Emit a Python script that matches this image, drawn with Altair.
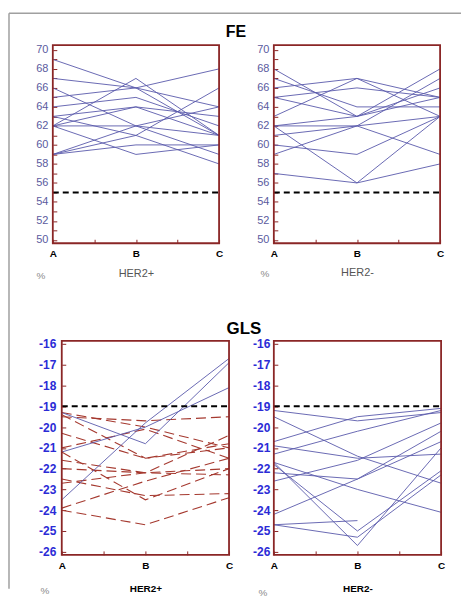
import altair as alt
import pandas as pd

stages = ["A", "B", "C"]

# FE (%), HER2+ : one row per patient, values at A, B, C
fe_her2_pos = [
    [69, 66, 64], [67, 66, 61], [66, 62, 59], [65, 66, 68], [64, 65, 62],
    [63, 64, 61], [63, 61, 58], [62, 67, 61], [62, 64, 63], [62, 62, 61],
    [59, 62, 64], [59, 61, 66], [59, 60, 60], [62, 59, 60],
]
# FE (%), HER2-
fe_her2_neg = [
    [68, 63, 65], [67, 64, 64], [66, 67, 63], [65, 66, 65], [65, 63, 66],
    [63, 67, 65], [62, 63, 68], [62, 62, 63], [62, 56, 63], [61, 62, 59],
    [60, 59, 63], [59, 62, 67], [57, 56, 58],
]
# GLS (%), HER2+ : solid blue patients
gls_her2_pos_blue = [
    [-19.3, -20.8, -16.9], [-21.2, -20.0, -18.1], [-23.5, -19.8, -16.7],
]
# GLS (%), HER2+ : dashed red patients
gls_her2_pos_red = [
    [-19.5, -19.7, -19.5], [-19.3, -20.0, -21.0], [-19.4, -21.5, -21.0],
    [-20.3, -21.5, -20.8], [-21.0, -20.1, -21.5], [-21.6, -22.2, -22.0],
    [-22.0, -22.2, -22.3], [-22.5, -23.3, -23.2], [-22.7, -22.2, -20.4],
    [-23.9, -22.6, -21.5], [-24.0, -24.7, -23.4], [-21.2, -23.5, -22.0],
]
# GLS (%), HER2-
gls_her2_neg = [
    [-19.2, -19.7, -19.3], [-19.5, -21.4, -22.7], [-20.7, -19.5, -19.1],
    [-21.3, -20.2, -19.2], [-20.9, -21.5, -21.3], [-21.7, -23.0, -24.1],
    [-21.7, -25.7, -21.0], [-21.8, -25.0, -22.1], [-22.2, -22.5, -20.2],
    [-22.6, -21.6, -19.8], [-24.2, -22.5, -20.7], [-24.7, -24.5, None],
    [-24.7, -25.3, -22.3],
]
fe_ref = 55
gls_ref = -19

fe_ticks = list(range(50, 71))
gls_ticks = list(range(-26, -15))
x_ticks = [0, 0.5, 1, 1.5, 2]

FONT = "Liberation Sans"
FRAME = "#8a2626"
BLUE = "#5a5aab"
RED = "#a5392f"
XLABEL = "datum.value % 1 == 0 ? " + str(stages) + "[datum.value] : ''"


def long_df(rows, tag):
    recs = []
    for i, r in enumerate(rows):
        for j, v in enumerate(r):
            if v is None:
                continue
            recs.append({"id": f"{tag}{i}", "s": j, "stage": stages[j], "v": v})
    return pd.DataFrame(recs)


def ref_df(val):
    return pd.DataFrame({"id": ["ref", "ref"], "s": [0, 2], "v": [val, val]})


def x_enc(x0, w, title, tweight, tcolor, tsize, ty, lpad):
    return alt.X(
        "s:Q",
        scale=alt.Scale(domain=[0, 2], range=[x0, w], nice=False, zero=False),
        axis=alt.Axis(
            values=x_ticks, labelExpr=XLABEL, labelFlush=False, labelOverlap=False,
            domain=False, grid=False, ticks=True, tickSize=4, tickWidth=1,
            tickColor=FRAME, offset=-4, labelFont=FONT, labelFontSize=10,
            labelFontWeight="bold", labelColor="black", labelPadding=lpad,
            title=title, titleFont=FONT, titleFontSize=tsize,
            titleFontWeight=tweight, titleColor=tcolor,
            titleBaseline="alphabetic", titleY=ty,
        ),
    )


def y_enc(dom, vals, expr, off, lcolor, lsize, lweight, lpad):
    return alt.Y(
        "v:Q",
        scale=alt.Scale(domain=dom, nice=False, zero=False),
        axis=alt.Axis(
            values=vals, labelExpr=expr, labelOverlap=False, domain=False,
            grid=False, ticks=True, tickSize=4, tickWidth=1, tickColor=FRAME,
            offset=off, labelFont=FONT, labelFontSize=lsize,
            labelFontWeight=lweight, labelColor=lcolor, labelPadding=lpad,
            title=None,
        ),
    )


def lines(df, x, y, color, width=1.0, dash=None):
    kw = dict(color=color, strokeWidth=width)
    if dash:
        kw["strokeDash"] = dash
    return alt.Chart(df).mark_line(**kw).encode(x=x, y=y, detail="id:N", order="s:Q")


def frame(x0, w, h):
    return alt.Chart(pd.DataFrame({"f": [0]})).mark_rect(
        filled=False, stroke=FRAME, strokeWidth=1.8
    ).encode(x=alt.value(x0), x2=alt.value(w), y=alt.value(0), y2=alt.value(h))


def text(s, x, y, **kw):
    return alt.Chart(pd.DataFrame({"t": [s]})).mark_text(font=FONT, **kw).encode(
        x=alt.value(x), y=alt.value(y), text="t:N"
    )


FE_DOM = [49.65, 70.5]
GLS_DOM = [-26.15, -15.85]
FE_EXPR = "datum.value % 2 == 0 ? '' + datum.value : ''"
GLS_EXPR = "'' + datum.value"
TOP_LABEL = "#5a5a9e"
BOT_LABEL = "#2b2bd6"

# ---------- top left: FE HER2+
W1, H1 = 167, 199
x = x_enc(0, W1, "HER2+", "normal", "#555555", 11, 37, 5)
y = y_enc(FE_DOM, fe_ticks, FE_EXPR, -4, TOP_LABEL, 11, "normal", 5)
gray_top = alt.Chart(pd.DataFrame({"f": [0]})).mark_rule(color="#a0a0a0", strokeWidth=1.5).encode(
    x=alt.value(-44), x2=alt.value(410), y=alt.value(-32))
gray_left = alt.Chart(pd.DataFrame({"f": [0]})).mark_rule(color="#a0a0a0", strokeWidth=1.5).encode(
    x=alt.value(-44), y=alt.value(-32), y2=alt.value(546))
tl = alt.layer(
    gray_top, gray_left,
    lines(long_df(fe_her2_pos, "p"), x, y, BLUE, 0.9),
    lines(ref_df(fe_ref), x, y, "black", 2, [6, 4]),
    frame(0, W1, H1),
    text("FE", 184, -13, fontSize=16, fontWeight="bold", color="black", align="center"),
    text("%", -12, 232, fontSize=10, color="#8a8a8a", align="center"),
).properties(width=W1, height=H1)

# ---------- top right: FE HER2-
W2 = 167
x = x_enc(0, W2, "HER2-", "normal", "#555555", 11, 36, 5)
y = y_enc(FE_DOM, fe_ticks, FE_EXPR, -4, TOP_LABEL, 11, "normal", 5)
tr = alt.layer(
    lines(long_df(fe_her2_neg, "n"), x, y, BLUE, 0.9),
    lines(ref_df(fe_ref), x, y, "black", 2, [6, 4]),
    frame(0, W2, H1),
    text("%", -9, 230, fontSize=10, color="#8a8a8a", align="center"),
).properties(width=W2, height=H1)

# ---------- bottom left: GLS HER2+
W3, H2, X3 = 177, 215, 9
x = x_enc(X3, W3, "HER2+", "bold", "black", 10, 41, 6)
y = y_enc(GLS_DOM, gls_ticks, GLS_EXPR, -(X3 + 4), BOT_LABEL, 12, "bold", 6)
bl = alt.layer(
    lines(long_df(gls_her2_pos_red, "r"), x, y, RED, 1.1, [10, 5]),
    lines(long_df(gls_her2_pos_blue, "b"), x, y, BLUE, 0.9),
    lines(ref_df(gls_ref), x, y, "black", 2, [6, 4]),
    frame(X3, W3, H2),
    text("GLS", 192, -12, fontSize=17, fontWeight="bold", color="black", align="center"),
    text("%", -8, 251, fontSize=10, color="#8a8a8a", align="center"),
).properties(width=W3, height=H2)

# ---------- bottom right: GLS HER2-
W4 = 168
x = x_enc(0, W4, "HER2-", "bold", "black", 10, 41, 6)
y = y_enc(GLS_DOM, gls_ticks, GLS_EXPR, -4, BOT_LABEL, 12, "bold", 4)
br = alt.layer(
    lines(long_df(gls_her2_neg, "g"), x, y, BLUE, 0.9),
    lines(ref_df(gls_ref), x, y, "black", 2, [6, 4]),
    frame(0, W4, H2),
    text("%", -11, 253, fontSize=10, color="#8a8a8a", align="center"),
).properties(width=W4, height=H2)

chart = alt.concat(
    tl, tr, bl, br, columns=2, spacing={"row": 98, "column": 45}, bounds="flush"
).properties(
    padding={"left": 0, "top": 3, "right": 0, "bottom": 0}, background="white"
).configure_view(stroke=None)

chart.save("out.html", embed_options={"renderer": "svg", "actions": False})
